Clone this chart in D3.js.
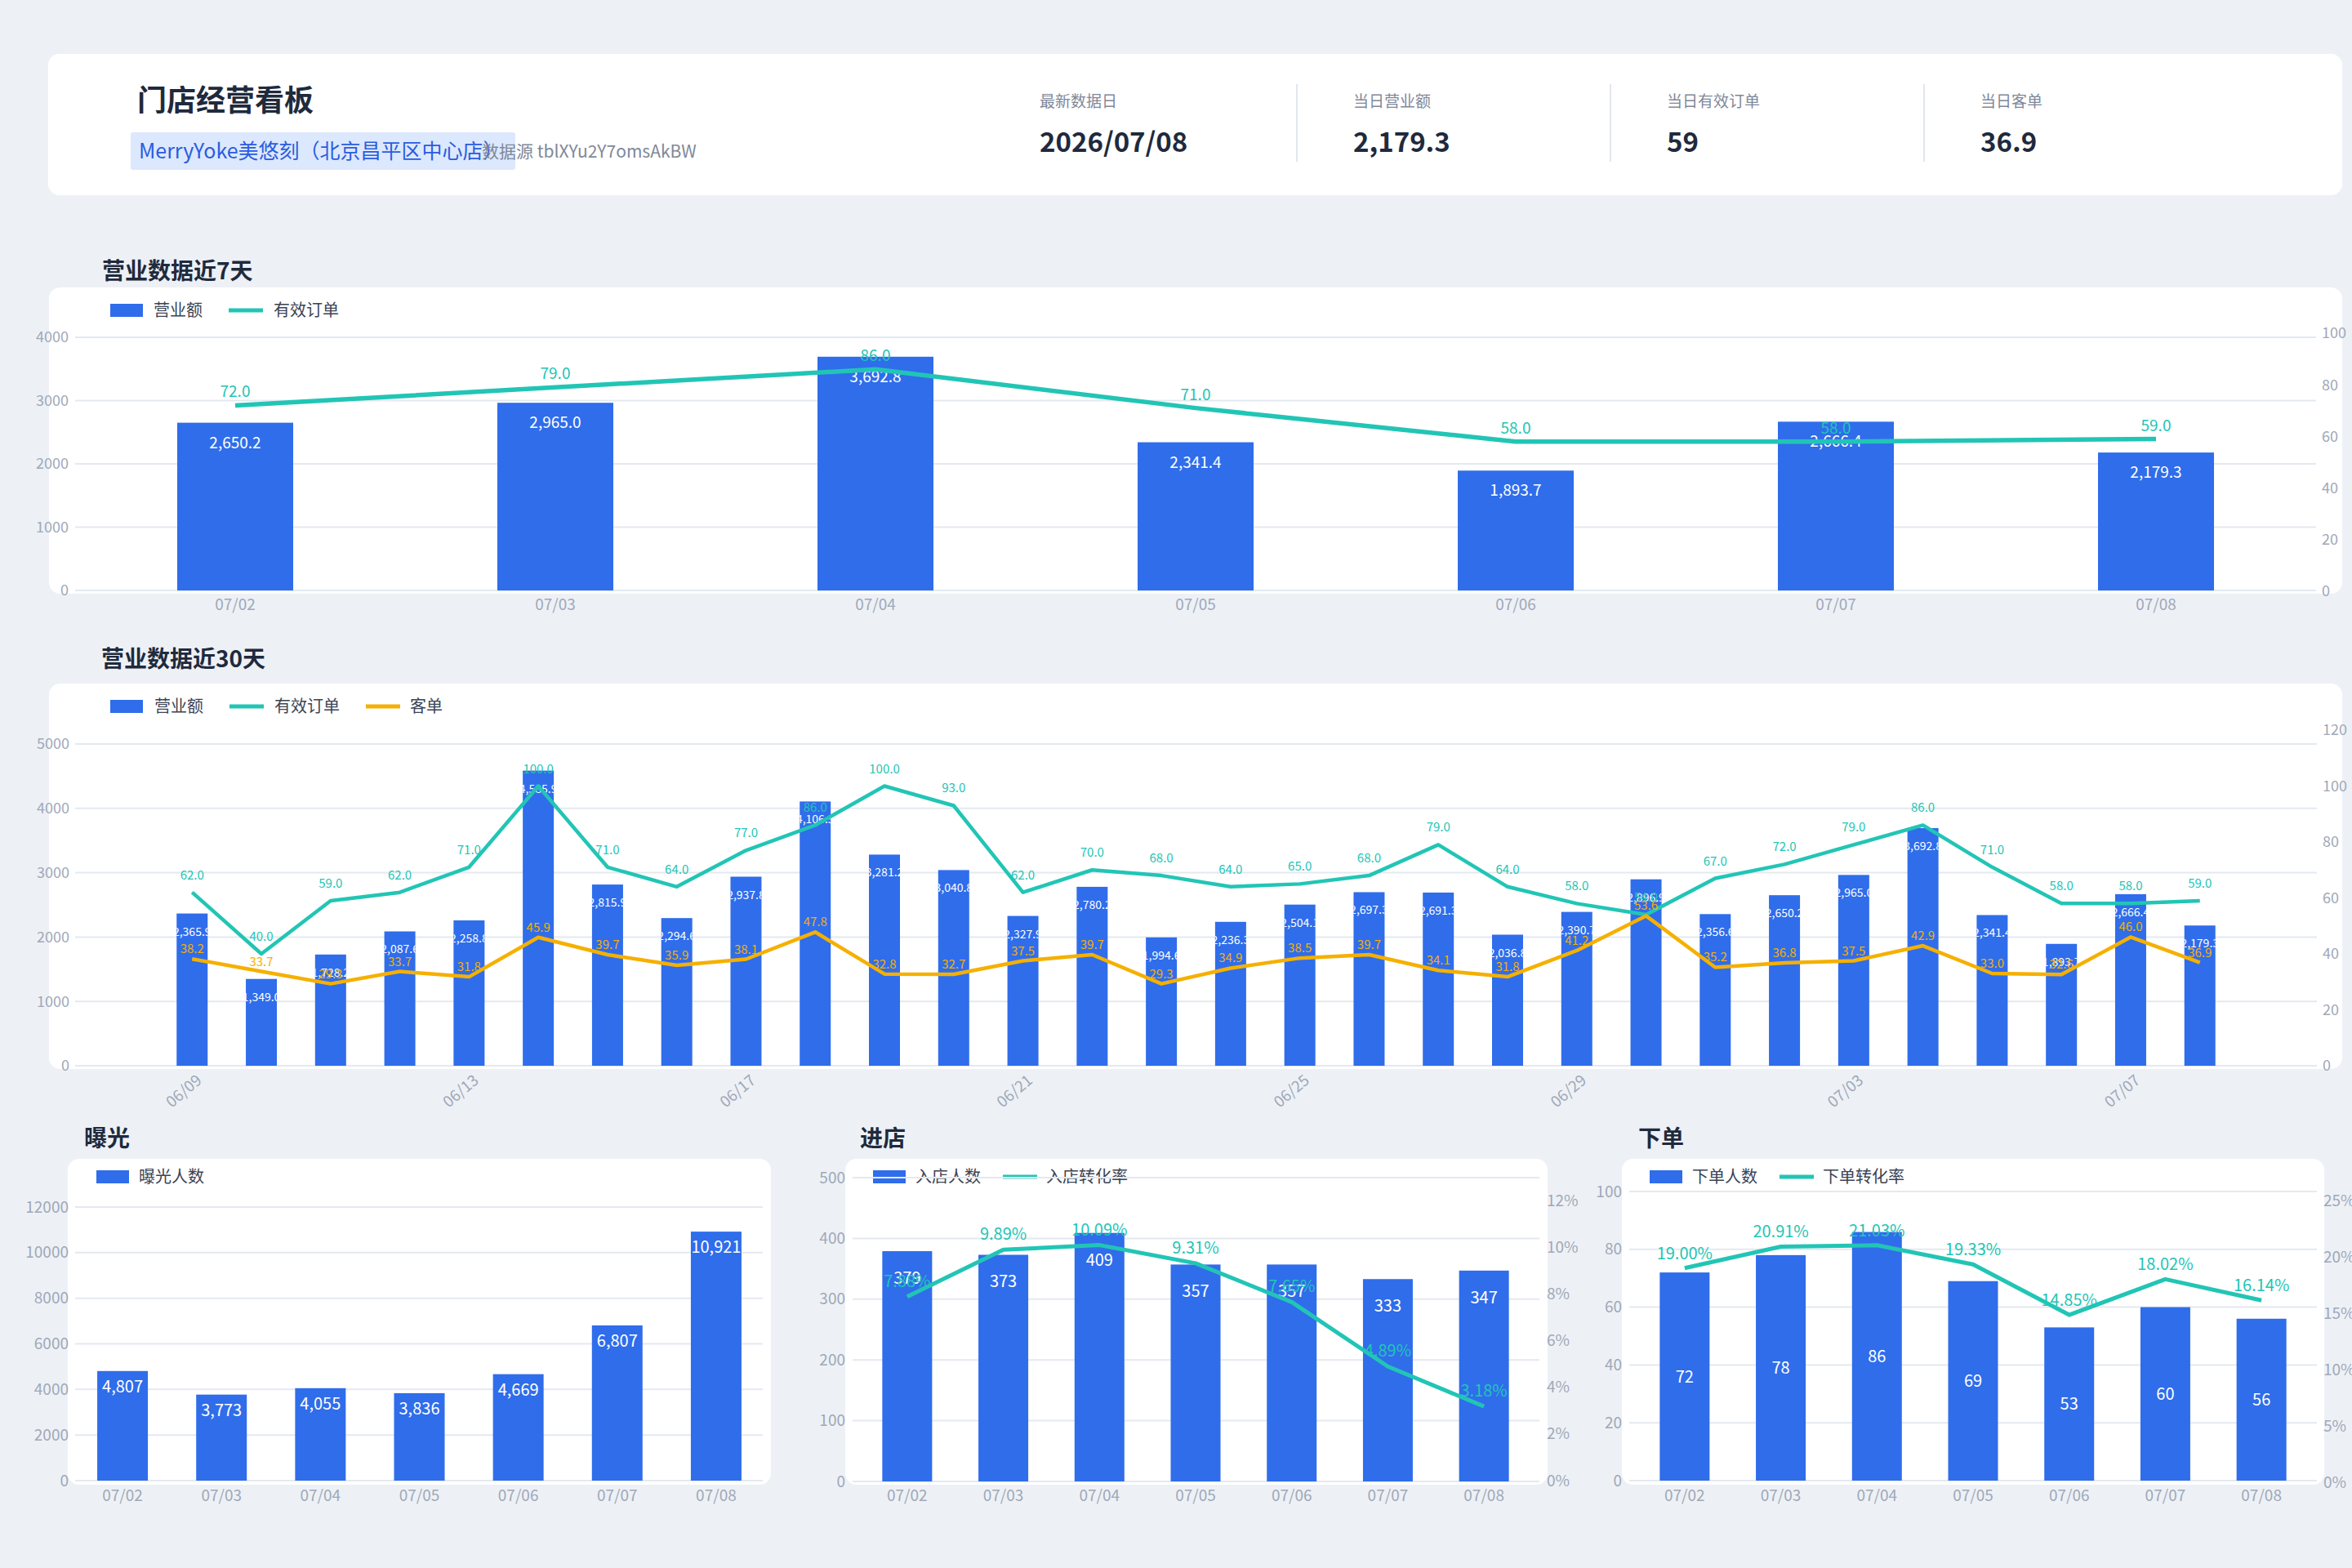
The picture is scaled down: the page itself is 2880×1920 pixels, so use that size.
<!DOCTYPE html>
<html>
<head>
<meta charset="utf-8">
<script src="https://cdn.jsdelivr.net/npm/d3@7"></script>
<style>
body { margin: 0; background: #edf1f6; }
svg text { font-family: "Noto Sans CJK SC", "Noto Sans", sans-serif; }
</style>
</head>
<body>
<svg id="chart" width="2880" height="1920"></svg>
<script>
// ---- data ----
var kpiLabels = ["最新数据日", "当日营业额", "当日有效订单", "当日客单"];
var kpiValues = ["2026/07/08", "2,179.3", "59", "36.9"];

var days7 = ["07/02", "07/03", "07/04", "07/05", "07/06", "07/07", "07/08"];
var revenue7 = [2650.2, 2965.0, 3692.8, 2341.4, 1893.7, 2666.4, 2179.3];
var orders7 = [72, 79, 86, 71, 58, 58, 59];

var days30 = ["06/09", "06/10", "06/11", "06/12", "06/13", "06/14", "06/15", "06/16", "06/17", "06/18",
	"06/19", "06/20", "06/21", "06/22", "06/23", "06/24", "06/25", "06/26", "06/27", "06/28",
	"06/29", "06/30", "07/01", "07/02", "07/03", "07/04", "07/05", "07/06", "07/07", "07/08"];
var revenue30 = [2365.9, 1349.0, 1728.2, 2087.6, 2258.8, 4585.9, 2815.9, 2294.6, 2937.8, 4106.5,
	3281.2, 3040.8, 2327.9, 2780.2, 1994.6, 2236.3, 2504.1, 2697.3, 2691.3, 2036.8,
	2390.7, 2896.9, 2356.6, 2650.2, 2965.0, 3692.8, 2341.4, 1893.7, 2666.4, 2179.3];
var orders30 = [62, 40, 59, 62, 71, 100, 71, 64, 77, 86,
	100, 93, 62, 70, 68, 64, 65, 68, 79, 64,
	58, 54, 67, 72, 79, 86, 71, 58, 58, 59];
var aov30 = [38.2, 33.7, 29.3, 33.7, 31.8, 45.9, 39.7, 35.9, 38.1, 47.8,
	32.8, 32.7, 37.5, 39.7, 29.3, 34.9, 38.5, 39.7, 34.1, 31.8,
	41.2, 53.6, 35.2, 36.8, 37.5, 42.9, 33.0, 32.6, 46.0, 36.9];

var exposure = [4807, 3773, 4055, 3836, 4669, 6807, 10921];
var visitors = [379, 373, 409, 357, 357, 333, 347];
var visitRate = [0.0788, 0.0989, 0.1009, 0.0931, 0.0765, 0.0489, 0.0318];
var buyers = [72, 78, 86, 69, 53, 60, 56];
var buyRate = [0.1900, 0.2091, 0.2103, 0.1933, 0.1485, 0.1802, 0.1614];

// ---- colours ----
var C = {
	bg: "#edf1f6", card: "#ffffff", title: "#1f2a3d", axis: "#a0a8b8", legend: "#3b4354",
	bar: "#2f6deb", teal: "#22c5b5", orange: "#f5b000", grid: "#e4e9f0", sub: "#7f8899"
};

var svg = d3.select("#chart");
svg.append("rect").attr("width", 2880).attr("height", 1920).attr("fill", C.bg);

function card(x, y, w, h){
	svg.append("rect").attr("x", x).attr("y", y).attr("width", w).attr("height", h)
		.attr("rx", 14).attr("fill", C.card);
}

function title(txt, x, y){
	svg.append("text").attr("x", x).attr("y", y).attr("font-size", 28).attr("font-weight", 700)
		.attr("fill", C.title).text(txt);
}

function legend(items, cy){
	items.forEach(function(it){
		if (it.type === "rect"){
			svg.append("rect").attr("x", it.x).attr("y", cy - 8).attr("width", 40).attr("height", 16).attr("fill", it.color);
		} else {
			svg.append("line").attr("x1", it.x).attr("x2", it.x + 42).attr("y1", cy).attr("y2", cy)
				.attr("stroke", it.color).attr("stroke-width", 5);
		}
		svg.append("text").attr("x", it.tx).attr("y", cy + 7).attr("font-size", 20)
			.attr("fill", C.legend).text(it.label);
	});
}

var clipId = 0;
function combo(o){
	var g = svg.append("g");

	// grid + left axis
	o.leftTicks.forEach(function(t){
		g.append("line").attr("x1", o.gridX[0]).attr("x2", o.gridX[1])
			.attr("y1", o.yL(t)).attr("y2", o.yL(t)).attr("stroke", C.grid).attr("stroke-width", 2);
	});
	g.selectAll(".yl").data(o.leftTicks).enter().append("text")
		.attr("x", o.leftX).attr("y", function(d){ return o.yL(d); }).attr("dy", "0.35em")
		.attr("text-anchor", "end").attr("font-size", o.axisFs).attr("fill", C.axis)
		.text(function(d){ return d; });

	// right axis
	if (o.yR){
		g.selectAll(".yr").data(o.rightTicks).enter().append("text")
			.attr("x", o.rightX).attr("y", function(d){ return o.yR(d); }).attr("dy", "0.35em")
			.attr("font-size", o.axisFs).attr("fill", C.axis)
			.text(function(d){ return o.rightFmt(d); });
	}

	// bars
	g.selectAll(".bar").data(o.bars).enter().append("rect")
		.attr("x", function(d, i){ return o.x(o.cats[i]) - o.bw / 2; })
		.attr("y", function(d){ return o.yL(d); })
		.attr("width", o.bw)
		.attr("height", function(d){ return o.yL(0) - o.yL(d); })
		.attr("fill", C.bar);

	// bar labels
	o.bars.forEach(function(d, i){
		var cx = o.x(o.cats[i]), top = o.yL(d), bottom = o.yL(0);
		var y = o.barLabelMid ? (top + bottom) / 2 + 7 : top + o.barLabelDy;
		var t = g.append("text").attr("x", cx).attr("y", y).attr("text-anchor", "middle")
			.attr("font-size", o.barFs).attr("fill", "#ffffff").text(o.barFmt(d));
		if (o.clip){
			var id = "bclip" + (clipId++);
			g.append("clipPath").attr("id", id).append("rect")
				.attr("x", cx - o.bw / 2).attr("y", top).attr("width", o.bw).attr("height", bottom - top);
			t.attr("clip-path", "url(#" + id + ")");
		}
	});

	// lines
	o.lines.forEach(function(s){
		var line = d3.line()
			.x(function(d, i){ return o.x(o.cats[i]); })
			.y(function(d){ return o.yR(d); });
		g.append("path").datum(s.values).attr("d", line).attr("fill", "none")
			.attr("stroke", s.color).attr("stroke-width", o.lineW).attr("stroke-linejoin", "round");
	});
	o.lines.forEach(function(s){
		g.selectAll(null).data(s.values).enter().append("text")
			.attr("x", function(d, i){ return o.x(o.cats[i]); })
			.attr("y", function(d){ return o.yR(d) - s.dy; })
			.attr("text-anchor", "middle").attr("font-size", s.fs).attr("fill", s.color)
			.text(function(d){ return s.fmt(d); });
	});

	// x labels
	o.cats.forEach(function(c, i){
		if (o.xEvery && i % o.xEvery !== 0) return;
		var t = g.append("text").attr("font-size", o.xFs).attr("fill", C.axis).text(c);
		if (o.xRotate){
			var px = o.x(c) + 13, py = o.xLabelY;
			t.attr("text-anchor", "end")
				.attr("transform", "translate(" + px + "," + py + ") rotate(" + o.xRotate + ")");
		} else {
			t.attr("x", o.x(c)).attr("y", o.xLabelY).attr("text-anchor", "middle");
		}
	});
}

// ---- header ----
card(59, 66, 2809, 173);
svg.append("text").attr("x", 168).attr("y", 136).attr("font-size", 36).attr("font-weight", 700)
	.attr("fill", C.title).text("门店经营看板");
svg.append("rect").attr("x", 160).attr("y", 162).attr("width", 471).attr("height", 46)
	.attr("rx", 3).attr("fill", "#dce8fd");
svg.append("text").attr("x", 170).attr("y", 194).attr("font-size", 25).attr("fill", "#2b5ce0")
	.text("MerryYoke美悠刻（北京昌平区中心店）");
svg.append("text").attr("x", 590).attr("y", 193).attr("font-size", 21).attr("fill", C.sub)
	.text("数据源 tblXYu2Y7omsAkBW");

var kpiX = [1273, 1657, 2041, 2425];
kpiLabels.forEach(function(l, i){
	svg.append("text").attr("x", kpiX[i]).attr("y", 131).attr("font-size", 19).attr("fill", C.sub).text(l);
	svg.append("text").attr("x", kpiX[i]).attr("y", 186).attr("font-size", 33).attr("font-weight", 700)
		.attr("fill", C.title).text(kpiValues[i]);
	if (i > 0){
		svg.append("line").attr("x1", kpiX[i] - 69).attr("x2", kpiX[i] - 69).attr("y1", 103).attr("y2", 198)
			.attr("stroke", "#e1e6ee").attr("stroke-width", 2);
	}
});

var fmt1 = d3.format(".1f"), fmtRev = d3.format(",.1f"), fmtInt = d3.format(","), fmtPct = d3.format(".2%");

// ---- 7 days ----
title("营业数据近7天", 125, 342);
card(60, 352, 2808, 375);
legend([
	{type: "rect", x: 135, tx: 188, color: C.bar, label: "营业额"},
	{type: "line", x: 280, tx: 335, color: C.teal, label: "有效订单"}
], 380);
combo({
	cats: days7,
	x: d3.scalePoint().domain(days7).range([92, 2836]).padding(0.5),
	yL: d3.scaleLinear().domain([0, 4000]).range([723, 413]),
	yR: d3.scaleLinear().domain([0, 100]).range([724, 408]),
	leftTicks: [0, 1000, 2000, 3000, 4000], rightTicks: [0, 20, 40, 60, 80, 100],
	rightFmt: function(d){ return d; },
	gridX: [92, 2836], leftX: 84, rightX: 2843, axisFs: 18,
	bars: revenue7, bw: 142, barFmt: fmtRev, barFs: 19, barLabelDy: 31,
	lines: [{values: orders7, color: C.teal, fmt: fmt1, dy: 10, fs: 19}], lineW: 5.5,
	xLabelY: 747, xFs: 19
});

// ---- 30 days ----
title("营业数据近30天", 124, 817);
card(60, 837, 2808, 472);
legend([
	{type: "rect", x: 135, tx: 189, color: C.bar, label: "营业额"},
	{type: "line", x: 281, tx: 336, color: C.teal, label: "有效订单"},
	{type: "line", x: 448, tx: 502, color: C.orange, label: "客单"}
], 865);
combo({
	cats: days30,
	x: d3.scalePoint().domain(days30).range([92, 2837]).padding(1.69),
	yL: d3.scaleLinear().domain([0, 5000]).range([1305, 911]),
	yR: d3.scaleLinear().domain([0, 120]).range([1305, 894]),
	leftTicks: [0, 1000, 2000, 3000, 4000, 5000], rightTicks: [0, 20, 40, 60, 80, 100, 120],
	rightFmt: function(d){ return d; },
	gridX: [92, 2837], leftX: 85, rightX: 2844, axisFs: 18,
	bars: revenue30, bw: 38, barFmt: fmtRev, barFs: 14, barLabelDy: 27, clip: true,
	lines: [
		{values: orders30, color: C.teal, fmt: fmt1, dy: 16, fs: 15},
		{values: aov30, color: C.orange, fmt: fmt1, dy: 7, fs: 15}
	], lineW: 4.5,
	xLabelY: 1325, xFs: 19, xEvery: 4, xRotate: -40
});

// ---- exposure ----
title("曝光", 103, 1404);
card(83, 1419, 861, 399);
legend([{type: "rect", x: 118, tx: 170, color: C.bar, label: "曝光人数"}], 1441);
combo({
	cats: days7,
	x: d3.scalePoint().domain(days7).range([89.5, 937.5]).padding(0.5),
	yL: d3.scaleLinear().domain([0, 12000]).range([1813, 1478]),
	leftTicks: [0, 2000, 4000, 6000, 8000, 10000, 12000],
	gridX: [92, 934], leftX: 84, axisFs: 19,
	bars: exposure, bw: 62, barFmt: fmtInt, barFs: 20, barLabelDy: 26,
	lines: [], lineW: 5,
	xLabelY: 1838, xFs: 19
});

// ---- visitors ----
title("进店", 1053, 1404);
card(1035, 1419, 860, 399);
legend([
	{type: "rect", x: 1069, tx: 1121, color: C.bar, label: "入店人数"},
	{type: "line", x: 1228, tx: 1281, color: C.teal, label: "入店转化率"}
], 1441);
combo({
	cats: days7,
	x: d3.scalePoint().domain(days7).range([1052, 1876]).padding(0.5),
	yL: d3.scaleLinear().domain([0, 500]).range([1814, 1442]),
	yR: d3.scaleLinear().domain([0, 0.12]).range([1813, 1470]),
	leftTicks: [0, 100, 200, 300, 400, 500], rightTicks: [0, 0.02, 0.04, 0.06, 0.08, 0.10, 0.12],
	rightFmt: d3.format(".0%"),
	gridX: [1044, 1885], leftX: 1035, rightX: 1894, axisFs: 19,
	bars: visitors, bw: 61, barFmt: fmtInt, barFs: 20, barLabelDy: 40,
	lines: [{values: visitRate, color: C.teal, fmt: fmtPct, dy: 12, fs: 20}], lineW: 5,
	xLabelY: 1838, xFs: 19
});

// ---- buyers ----
title("下单", 2006, 1404);
card(1986, 1419, 860, 399);
legend([
	{type: "rect", x: 2020, tx: 2072, color: C.bar, label: "下单人数"},
	{type: "line", x: 2179, tx: 2232, color: C.teal, label: "下单转化率"}
], 1441);
combo({
	cats: days7,
	x: d3.scalePoint().domain(days7).range([2004, 2828]).padding(0.5),
	yL: d3.scaleLinear().domain([0, 100]).range([1813, 1459]),
	yR: d3.scaleLinear().domain([0, 0.25]).range([1815, 1470]),
	leftTicks: [0, 20, 40, 60, 80, 100], rightTicks: [0, 0.05, 0.10, 0.15, 0.20, 0.25],
	rightFmt: d3.format(".0%"),
	gridX: [1995, 2837], leftX: 1986, rightX: 2845, axisFs: 19,
	bars: buyers, bw: 61, barFmt: fmtInt, barFs: 20, barLabelMid: true,
	lines: [{values: buyRate, color: C.teal, fmt: fmtPct, dy: 11, fs: 20}], lineW: 5,
	xLabelY: 1838, xFs: 19
});
</script>
</body>
</html>
